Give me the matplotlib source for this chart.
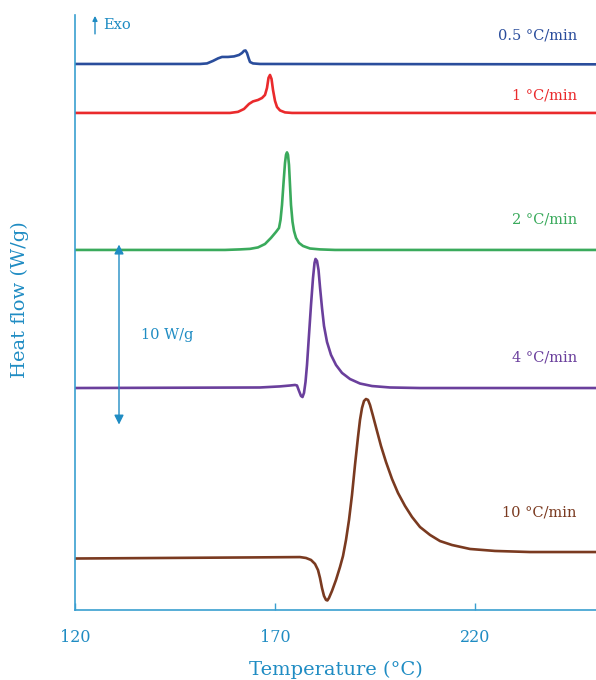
import matplotlib.pyplot as plt

# DSC traces, temperature in degC and heat flow in W/g (curves stacked with offsets)
t_05 = [120, 151.25, 153, 154.5, 155.75, 156.75, 158.25, 159.75, 161, 161.75, 162.25, 162.63, 163, 163.38,
        163.75, 164.5, 166.25, 250.25]
h_05 = [30.33, 30.33, 30.36, 30.5, 30.64, 30.72, 30.72, 30.75, 30.83, 30.94, 31.06, 31.08, 30.94, 30.67,
        30.44, 30.36, 30.33, 30.31]

t_1 = [120, 158.75, 160.75, 162.25, 163.5, 164.5, 165.75, 166.75, 167.5, 168, 168.38, 168.75, 169.13, 169.5,
       170, 170.5, 171.25, 172.5, 174.25, 250.25]
h_1 = [27.61, 27.61, 27.67, 27.83, 28.11, 28.25, 28.33, 28.44, 28.61, 29.0, 29.56, 29.72, 29.5, 28.89,
       28.28, 27.94, 27.75, 27.64, 27.61, 27.61]

t_2 = [120, 157.5, 161.25, 163.75, 165.75, 167.5, 169, 170.25, 171, 171.38, 171.75, 172.13, 172.5, 172.75, 173,
       173.25, 173.5, 173.75, 174, 174.38, 174.75, 175.25, 176, 177, 178.75, 181.25, 185, 250.25]
h_2 = [20.0, 20.0, 20.03, 20.06, 20.14, 20.33, 20.67, 21.0, 21.22, 21.67, 22.5, 23.72, 24.83, 25.28, 25.42,
       25.28, 24.72, 23.61, 22.5, 21.56, 21.06, 20.67, 20.39, 20.22, 20.08, 20.03, 20.0, 20.0]

t_4 = [120, 166.25, 171.25, 173.75, 175, 175.5, 176, 176.5, 176.88, 177.25, 177.63, 178, 178.5, 179, 179.5,
       179.88, 180.13, 180.5, 180.88, 181.25, 181.75, 182.25, 183, 184, 185.25, 186.75, 188.75, 191.25, 194.25,
       198.75, 206.25, 250.25]
h_4 = [12.33, 12.36, 12.42, 12.47, 12.5, 12.47, 12.17, 11.89, 11.83, 12.06, 12.67, 13.61, 15.28, 16.94, 18.44,
       19.28, 19.5, 19.39, 18.89, 17.94, 16.78, 15.78, 14.89, 14.17, 13.61, 13.17, 12.83, 12.58, 12.44,
       12.36, 12.33, 12.33]

t_10 = [120, 163.75, 176.25, 177.75, 179, 180, 180.75, 181.25, 181.75, 182.25, 182.75, 183.1, 183.5, 184.25,
        185.25, 186.25, 187, 187.75, 188.5, 189.25, 190, 190.75, 191.25, 191.75, 192.25, 192.75, 193.25, 193.75,
        194.5, 195.5, 196.5, 197.75, 199.25, 200.75, 202.5, 204.25, 206.25, 208.75, 211.25, 214.25, 218.75,
        225, 233.75, 250.25]
h_10 = [2.86, 2.92, 2.94, 2.89, 2.78, 2.56, 2.22, 1.78, 1.22, 0.78, 0.56, 0.53, 0.67, 1.06,
        1.67, 2.39, 3.0, 3.89, 5.0, 6.39, 8.06, 9.61, 10.56, 11.22, 11.61, 11.72, 11.67, 11.39,
        10.78, 9.94, 9.11, 8.22, 7.28, 6.5, 5.78, 5.17, 4.61, 4.17, 3.83, 3.61, 3.39,
        3.28, 3.22, 3.22]

rates = ['0.5 °C/min', '1 °C/min', '2 °C/min', '4 °C/min', '10 °C/min']
label_y = [31.9, 28.6, 21.7, 14.0, 5.4]
colors = ['#2a4d9c', '#ea2a2c', '#3aaa5c', '#6a3f9c', '#7a3a20']
xticks = [120, 170, 220]
scale_bar = 10  # W/g

blue = '#1f8cc3'
spine = '#3a9fd0'
font = 'DejaVu Serif'

fig = plt.figure(figsize=(5.96, 6.8), dpi=100)
ax = fig.add_axes([75 / 596, 70 / 680, 521 / 596, 595 / 680])

series = [(t_05, h_05), (t_1, h_1), (t_2, h_2), (t_4, h_4), (t_10, h_10)]
for (t, h), c, lab, ly in zip(series, colors, rates, label_y):
    ax.plot(t, h, color=c, lw=1.9, solid_joinstyle='round', solid_capstyle='round')
    ax.text(245.5, ly, lab, color=c, fontsize=10.5, family=font, ha='right', va='center')

ax.set_xlim(120, 250.25)
ax.set_ylim(0, 33.05)
for s in ['top', 'right']:
    ax.spines[s].set_visible(False)
for s in ['left', 'bottom']:
    ax.spines[s].set_color(spine)
    ax.spines[s].set_linewidth(1.2)
ax.set_yticks([])
ax.set_xticks(xticks)
ax.set_xticklabels([str(v) for v in xticks], family=font, fontsize=11.5, color=blue)
ax.tick_params(axis='x', direction='in', length=5, width=1, color=spine, pad=14)

# scale bar
y0 = 10.3
ax.annotate('', xy=(131, y0), xytext=(131, y0 + scale_bar),
            arrowprops=dict(arrowstyle='<|-|>', color=blue, lw=1.0, mutation_scale=14, shrinkA=0, shrinkB=0))
ax.text(136.5, 15.3, f'{scale_bar} W/g', color=blue, fontsize=10.5, family=font, va='center')

# exotherm direction
ax.annotate('', xy=(125, 33.0), xytext=(125, 32.0),
            arrowprops=dict(arrowstyle='-|>', color=blue, lw=1.0, mutation_scale=7, shrinkA=0, shrinkB=0))
ax.text(127, 32.5, 'Exo', color=blue, fontsize=10.5, family=font, va='center')

fig.text(336 / 596, 10 / 680, 'Temperature (°C)', color=blue, fontsize=14, family=font, ha='center', va='center')
fig.text(20 / 596, 380 / 680, 'Heat flow (W/g)', color=blue, fontsize=14, family=font,
         rotation=90, ha='center', va='center')

fig.savefig('out.png', dpi=100)
